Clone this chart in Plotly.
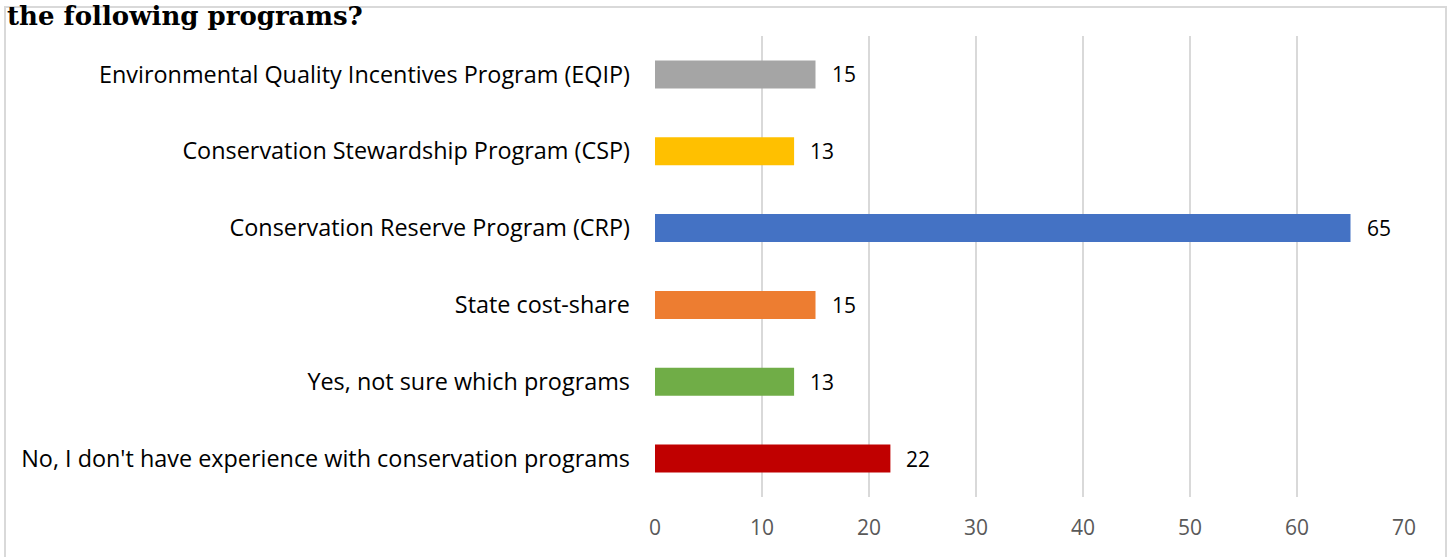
import plotly.graph_objects as go

programs = [
    "Environmental Quality Incentives Program (EQIP)",
    "Conservation Stewardship Program (CSP)",
    "Conservation Reserve Program (CRP)",
    "State cost-share",
    "Yes, not sure which programs",
    "No, I don't have experience with conservation programs",
]
counts = [15, 13, 65, 15, 13, 22]
bar_colors = ["#a5a5a5", "#ffc000", "#4472c4", "#ed7d31", "#70ad47", "#c00000"]
x_ticks = [0, 10, 20, 30, 40, 50, 60, 70]

W, H = 1450, 557
left, right, top, bottom = 655, 46, 36, 60
pw, ph = W - left - right, H - top - bottom

def px_x(p):
    return (p - left) / pw

def px_y(p):
    return (H - bottom - p) / ph

fig = go.Figure()
fig.add_trace(go.Bar(
    y=programs, x=counts, orientation="h",
    marker=dict(color=bar_colors, line=dict(width=0)),
    width=0.365, hoverinfo="x+y",
))

for name, v in zip(programs, counts):
    fig.add_annotation(x=v, y=name, text=str(v), showarrow=False,
                       xanchor="left", xshift=14,
                       font=dict(family="Open Sans", size=21, color="#000000"))

# title fragment overlapping the border, top-left
fig.add_annotation(xref="paper", yref="paper", x=px_x(5), y=px_y(-1),
                   xanchor="left", yanchor="top", showarrow=False,
                   text="<b>the following programs?</b>",
                   font=dict(family="DejaVu Serif", size=26, color="#000000"))

fig.add_shape(type="rect", xref="paper", yref="paper",
              x0=px_x(5), x1=px_x(1446), y0=px_y(565), y1=px_y(7),
              line=dict(color="#d9d9d9", width=2), layer="below")

fig.update_layout(
    width=W, height=H,
    margin=dict(l=left, r=right, t=top, b=bottom),
    paper_bgcolor="white", plot_bgcolor="white",
    showlegend=False,
    font=dict(family="Open Sans", size=22, color="#000000"),
    xaxis=dict(range=[0, 70], tickvals=x_ticks, showgrid=True,
               gridcolor="#d9d9d9", gridwidth=2, zeroline=False,
               showline=False, ticks="", ticklabelstandoff=16,
               tickfont=dict(size=21, color="#595959")),
    yaxis=dict(autorange="reversed", showgrid=False, showline=False,
               ticks="", ticklabelstandoff=24,
               tickfont=dict(size=23.4, color="#000000")),
)

fig.write_html("out.html", config={"displayModeBar": False},
               post_script="document.body.style.margin='0';")
